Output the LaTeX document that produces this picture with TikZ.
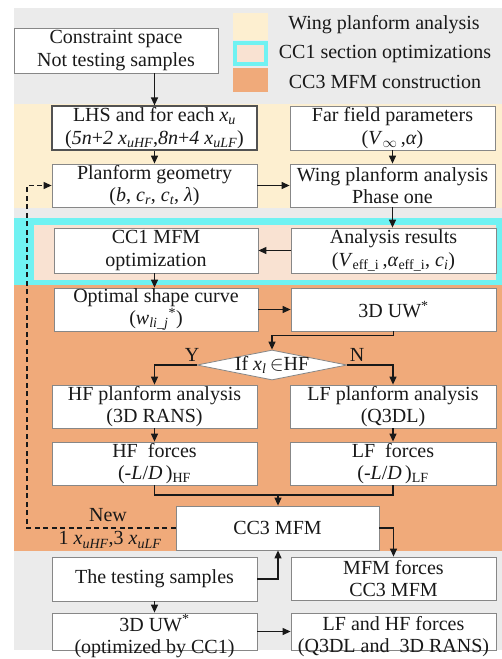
\documentclass[tikz,border=0pt]{standalone}
\usepackage{fontspec}
\setmainfont{Liberation Serif}
\usetikzlibrary{arrows.meta,shapes.geometric}

\definecolor{bggray}{RGB}{235,235,235}
\definecolor{wingyel}{RGB}{253,239,208}
\definecolor{ccone}{RGB}{112,242,242}
\definecolor{peach}{RGB}{249,226,210}
\definecolor{ccthree}{RGB}{240,170,122}
\definecolor{edgegray}{RGB}{135,135,135}
\definecolor{ink}{RGB}{25,25,25}

\newcommand\sbs[1]{\textsubscript{#1}}
\newcommand\sps[1]{\textsuperscript{#1}}

\begin{document}
\begin{tikzpicture}[x=1pt,y=-1pt,
  font=\fontsize{20}{22.5}\selectfont, text=ink,
  box/.style={draw=edgegray, line width=0.8pt, fill=white,
    minimum width=205pt, minimum height=44pt, inner sep=0pt, align=center},
  darkbox/.style={box, draw=ink!75, line width=1.2pt},
  flow/.style={draw=ink, line width=1.2pt, -{Triangle[length=8pt,width=7pt]}},
  plainline/.style={draw=ink, line width=1.2pt},
  lbl/.style={inner sep=0pt, align=center}]

\useasboundingbox (0,0) rectangle (502,659);

% coloured bands
\fill[bggray] (14,8) rectangle (502,650);
\fill[wingyel] (14,104) rectangle (502,208);
\fill[ccone] (14,218) rectangle (502,285);
\fill[peach] (34,225) rectangle (496,280);
\fill[ccthree] (14,285) rectangle (502,551);

% legend
\fill[wingyel] (233,13) rectangle (268,40);
\fill[ccone] (233,41) rectangle (268,66);
\fill[peach] (237,45) rectangle (264,62);
\fill[ccthree] (233,68) rectangle (268,92);
\node[lbl] (lg1) at (384,25) {Wing planform analysis};
\node[lbl] (lg2) at (385,54) {CC1 section optimizations};
\node[lbl] (lg3) at (385,82) {CC3 MFM construction};

% boxes
\node[box, minimum width=204pt, minimum height=45pt] (cons) at (116,50.5)
  {Constraint space\\Not testing samples};
\node[darkbox] (lhs) at (154.5,128)
  {LHS and for each \textit{x}\sbs{\itshape u}\\
   (\textit{5n}+\textit{2 x}\sbs{\itshape uHF},\textit{8n}+\textit{4 x}\sbs{\itshape uLF})};
\node[box] (far) at (392.5,128)
  {Far field parameters\\(\textit{V}\sbs{$\infty$}\,,\textit{α})};
\node[box, minimum height=43pt] (plan) at (154.5,185.5)
  {Planform geometry\\(\textit{b}, \textit{c}\sbs{\itshape r}, \textit{c}\sbs{\itshape t}, \textit{λ})};
\node[box, minimum height=43pt] (wing) at (392.5,185.5)
  {Wing planform analysis\\Phase one};
\node[box, minimum width=204pt, minimum height=45pt] (cc1) at (156,250.5)
  {CC1 MFM\\optimization};
\node[box, minimum height=45pt] (ana) at (393.5,250.5)
  {Analysis results\\(\textit{V}\sbs{eff\_i}\,,\textit{α}\sbs{eff\_i}, \textit{c}\sbs{\itshape i})};
\node[box, minimum width=204pt, minimum height=43pt] (opt) at (156,309.5)
  {Optimal shape curve\\(\textit{w}\sbs{\itshape li\_j}\sps{*})};
\node[box, minimum height=43pt] (uw) at (393.5,309.5)
  {3D UW\sps{*}};
\node[diamond, draw=edgegray, line width=0.8pt, fill=white, inner sep=0pt,
  minimum width=150pt, minimum height=30pt] (dia) at (272,365) {};
\node[lbl] (diatext) at (dia.center) {If \textit{x}\sbs{\itshape l}\,$\in$HF};
\node[box, minimum height=43pt] (hfp) at (154.5,406.5)
  {HF planform analysis\\(3D RANS)};
\node[box, minimum width=206pt, minimum height=43pt] (lfp) at (393,406.5)
  {LF planform analysis\\(Q3DL)};
\node[box, minimum height=43pt] (hff) at (154.5,463.5)
  {HF\ \ forces\\(-\textit{L}/\textit{D}\,)\sbs{HF}};
\node[box, minimum width=206pt, minimum height=43pt] (lff) at (393,463.5)
  {LF\ \ forces\\(-\textit{L}/\textit{D}\,)\sbs{LF}};
\node[box, minimum width=203pt] (mfm) at (277.5,528) {CC3 MFM};
\node[box] (test) at (154.5,579) {The testing samples};
\node[box, minimum height=43pt] (mfmf) at (393.5,578.5) {MFM forces\\CC3 MFM};
% bottom row: the text sits low in these shallow boxes
\node[box, minimum height=37pt] (uw2) at (154.5,631.5) {};
\node[lbl] (uw2text) at ([yshift=-5pt]uw2.center) {3D UW\sps{*}\\(optimized by CC1)};
\node[box, minimum height=37pt] (lfhf) at (393.5,631.5) {};
\node[lbl] (lfhftext) at ([yshift=-5pt]lfhf.center) {LF and HF forces\\(Q3DL and\ \ 3D RANS)};

% labels
\node[lbl] (ylab) at (192,355) {Y};
\node[lbl] (nlab) at (357,355) {N};
\node[lbl] (newlab) at (108,515) {New};
\node[lbl] (newcnt) at (110,540)
  {1 \textit{x}\sbs{\itshape uHF},3 \textit{x}\sbs{\itshape uLF}};

% connectors
\draw[flow] (cons.south -| lhs.north) -- (lhs.north);
\draw[flow] (lhs.south) -- (plan.north);
\draw[flow] (far.south) -- (wing.north);
\draw[flow] (plan.east) -- (wing.west);
\draw[flow] (wing.south) -- (ana.north -| wing.south);
\draw[flow] (ana.west) -- (cc1.east);
\draw[flow] (cc1.south -| lhs.south) -- (opt.north -| lhs.south);
\draw[flow] (opt.east) -- (uw.west);
\draw[flow] (uw.south) -- ++(0,4) -| (dia.north);
\draw[flow] (dia.west) -| (hfp.north);
\draw[flow] (dia.east) -| (lfp.north);
\draw[flow] (hfp.south) -- (hff.north);
\draw[flow] (lfp.south) -- (lff.north);
\coordinate (join) at (278,495);
\draw[plainline] (hff.south) |- (join) -| (lff.south);
\draw[flow] (join) -- (join |- mfm.north);
\draw[flow] (mfm.east) -| (mfmf.north);
\draw[flow] (test.east) -| (mfm.south -| join);
\draw[flow] (test.south) -- (uw2.north);
\draw[flow] (uw2.east) -- (lfhf.west);
\coordinate (loop) at (27,528);
\draw[flow, line width=1.1pt, dash pattern=on 5pt off 3.5pt]
  (mfm.west) -- (loop) |- (plan.west);

\end{tikzpicture}
\end{document}
